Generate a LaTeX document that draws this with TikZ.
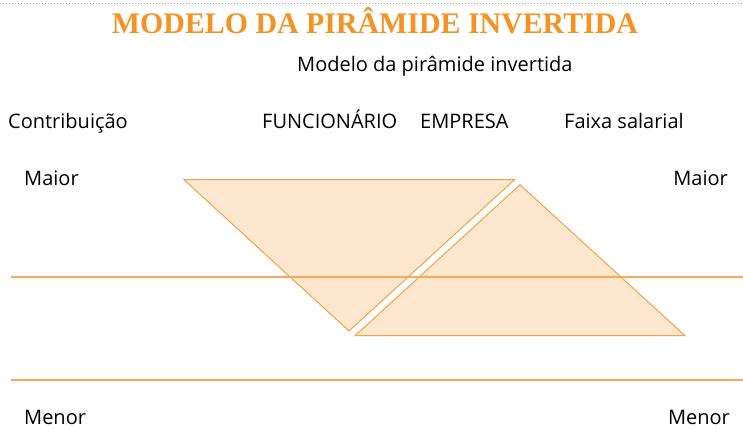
\documentclass[tikz,border=0pt]{standalone}
\usepackage{fontspec}
\setmainfont{Open Sans}
\newfontfamily\titlefont{Liberation Serif}
\definecolor{ttlorange}{RGB}{245,146,36}
\definecolor{lineorange}{RGB}{247,168,88}
\definecolor{trifill}{RGB}{253,231,207}
\definecolor{tristroke}{RGB}{246,160,72}
\begin{document}
\begin{tikzpicture}[x=1pt,y=-1pt,
  lbl/.style={inner sep=0pt,font=\fontsize{20}{22}\selectfont,text=black},
  tri/.style={fill=trifill,draw=tristroke,line width=1pt,line join=miter},
  hline/.style={draw=lineorange,line width=1.5pt}]
\useasboundingbox (0,0) rectangle (743,428);
\fill[white] (0,0) rectangle (743,428);
% dotted top rule
\coordinate (dl) at (0,3.5);
\coordinate (dr) at (743,3.5);
\draw[gray!70,line width=1.3pt,dash pattern=on 1.3pt off 1.7pt] (dl) -- (dr);
% title
\node[inner sep=0pt,anchor=base,text=ttlorange] (title) at (375,34)
  {\resizebox{526pt}{!}{\titlefont\bfseries\fontsize{29}{30}\selectfont MODELO DA PIRÂMIDE INVERTIDA}};
\node[lbl,anchor=base west] (sub) at (297,71) {Modelo da pirâmide invertida};
% headers
\node[lbl,anchor=base west] (contrib) at (8,128) {Contribuição};
\node[lbl,anchor=base west] (func) at (262,128) {FUNCIONÁRIO};
\node[lbl,anchor=base west] (emp) at (420,128) {EMPRESA};
\node[lbl,anchor=base west] (faixa) at (564,128) {Faixa salarial};
\node[lbl,anchor=base west] (maiorL) at (24,185) {Maior};
\node[lbl,anchor=base east] (maiorR) at (728,185) {Maior};
\node[lbl,anchor=base west] (menorL) at (24,424) {Menor};
\node[lbl,anchor=base east] (menorR) at (730,424) {Menor};
% triangles
\coordinate (t1a) at (184,179.7);
\coordinate (t1b) at (514.5,179.7);
\coordinate (t1c) at (349,331);
\coordinate (t2a) at (520,184.7);
\coordinate (t2b) at (355,335.7);
\coordinate (t2c) at (685,335.7);
\path[tri] (t1a) -- (t1b) -- (t1c) -- cycle;
\path[tri] (t2a) -- (t2b) -- (t2c) -- cycle;
% horizontal rules
\coordinate (h1l) at (11,277);
\coordinate (h1r) at (743,277);
\coordinate (h2l) at (11,380);
\coordinate (h2r) at (743,380);
\draw[hline] (h1l) -- (h1r);
\draw[hline] (h2l) -- (h2r);
\end{tikzpicture}
\end{document}
